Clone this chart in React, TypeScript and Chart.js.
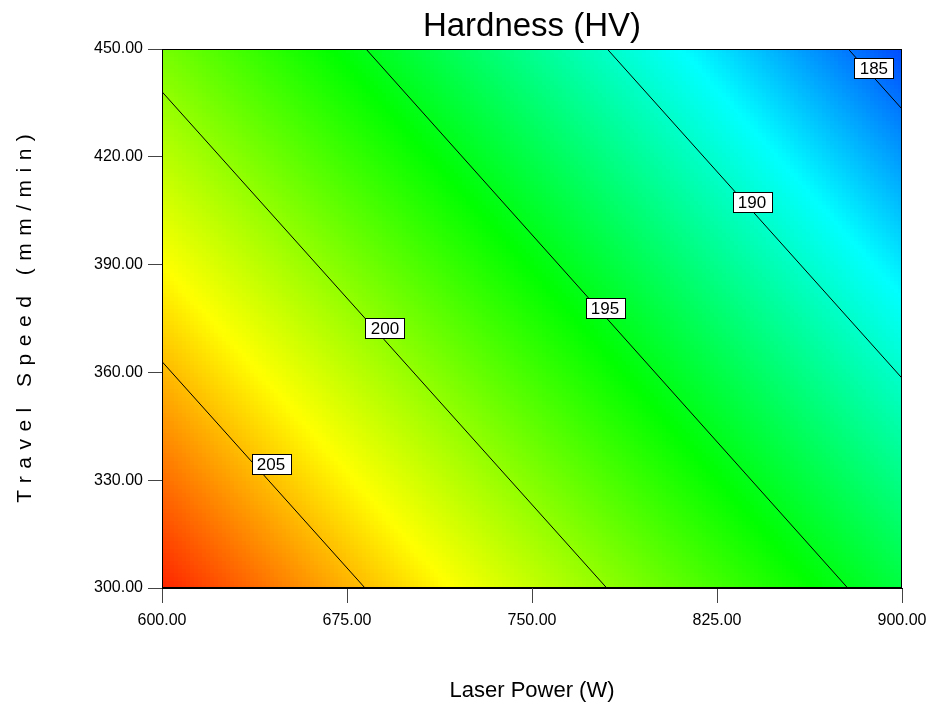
import React, { useEffect, useRef } from "react";
import { Chart, registerables } from "chart.js";

Chart.register(...registerables);

// Axis ranges / ticks
const POWER_TICKS = [600, 675, 750, 825, 900];
const SPEED_TICKS = [300, 330, 360, 390, 420, 450];

// Response surface (hardness, HV) on a coarse grid
const POWER_GRID = [600, 750, 900];
const SPEED_GRID = [300, 375, 450];
const HARDNESS_GRID = [
  // rows follow SPEED_GRID, columns follow POWER_GRID
  [209.2, 201.5, 193.9],
  [204.2, 196.6, 188.9],
  [199.2, 191.6, 183.9],
];

// Contour lines (level, endpoints in data units)
const CONTOUR_LEVELS = [205, 200, 195, 190, 185];
const CONTOUR_POWER = [
  [600, 682.3],
  [600, 780.3],
  [682.7, 878.0],
  [780.5, 900],
  [878.2, 900],
];
const CONTOUR_SPEED = [
  [363.0, 300],
  [438.1, 300],
  [450, 300],
  [450, 358.4],
  [450, 433.3],
];
// Label anchor positions (data units)
const LABEL_POWER = [644.2, 690.4, 779.6, 839.2, 888.6];
const LABEL_SPEED = [334.5, 372.4, 377.9, 407.4, 444.7];

const TITLE = "Hardness (HV)";
const X_TITLE = "Laser Power (W)";
const Y_TITLE = "Travel Speed (mm/min)";

const FONT = '"Liberation Sans", Arial, sans-serif';

const COLOR_STOPS: [number, number[]][] = [
  [182, [0, 0, 255]],
  [188.5, [0, 255, 255]],
  [195.7, [0, 255, 0]],
  [203.2, [255, 255, 0]],
  [210.2, [255, 0, 0]],
];

function colorFor(v: number): number[] {
  if (v <= COLOR_STOPS[0][0]) return COLOR_STOPS[0][1];
  for (let i = 1; i < COLOR_STOPS.length; i++) {
    const [v1, c1] = COLOR_STOPS[i];
    const [v0, c0] = COLOR_STOPS[i - 1];
    if (v <= v1) {
      const t = (v - v0) / (v1 - v0);
      return [0, 1, 2].map((k) => Math.round(c0[k] + (c1[k] - c0[k]) * t));
    }
  }
  return COLOR_STOPS[COLOR_STOPS.length - 1][1];
}

function locate(grid: number[], v: number): [number, number] {
  let i = 0;
  while (i < grid.length - 2 && v > grid[i + 1]) i++;
  const t = (v - grid[i]) / (grid[i + 1] - grid[i]);
  return [i, Math.max(0, Math.min(1, t))];
}

function surface(p: number, s: number): number {
  const [i, tx] = locate(POWER_GRID, p);
  const [j, ty] = locate(SPEED_GRID, s);
  const a = HARDNESS_GRID[j][i];
  const b = HARDNESS_GRID[j][i + 1];
  const c = HARDNESS_GRID[j + 1][i];
  const d = HARDNESS_GRID[j + 1][i + 1];
  return a * (1 - tx) * (1 - ty) + b * tx * (1 - ty) + c * (1 - tx) * ty + d * tx * ty;
}

const heatmapPlugin = {
  id: "heatmap",
  beforeDatasetsDraw(chart: any) {
    const { ctx, chartArea, scales } = chart;
    const x0 = Math.round(chartArea.left);
    const y0 = Math.round(chartArea.top);
    const w = Math.round(chartArea.right) - x0;
    const h = Math.round(chartArea.bottom) - y0;
    const img = ctx.createImageData(w, h);
    const cell = 4;
    for (let py = 0; py < h; py++) {
      const cy = Math.floor(py / cell) * cell + cell / 2;
      const s = scales.y.getValueForPixel(y0 + cy);
      for (let px = 0; px < w; px++) {
        const cx = Math.floor(px / cell) * cell + cell / 2;
        const p = scales.x.getValueForPixel(x0 + cx);
        const col = colorFor(surface(p, s));
        const idx = (py * w + px) * 4;
        img.data[idx] = col[0];
        img.data[idx + 1] = col[1];
        img.data[idx + 2] = col[2];
        img.data[idx + 3] = 255;
      }
    }
    ctx.putImageData(img, x0, y0);
  },
  afterDatasetsDraw(chart: any) {
    const { ctx, chartArea, scales } = chart;
    // contour labels
    ctx.save();
    ctx.font = `17px ${FONT}`;
    ctx.textAlign = "center";
    ctx.textBaseline = "middle";
    CONTOUR_LEVELS.forEach((lvl, i) => {
      const x = scales.x.getPixelForValue(LABEL_POWER[i]);
      const y = scales.y.getPixelForValue(LABEL_SPEED[i]);
      const bw = 39;
      const bh = 20;
      const bx = Math.round(x - bw / 2) + 0.5;
      const by = Math.round(y - bh / 2) + 0.5;
      ctx.fillStyle = "#fff";
      ctx.fillRect(bx, by, bw, bh);
      ctx.strokeStyle = "#000";
      ctx.lineWidth = 1;
      ctx.strokeRect(bx, by, bw, bh);
      ctx.fillStyle = "#000";
      ctx.fillText(String(lvl), x, y + 1);
    });
    // frame
    ctx.strokeStyle = "#000";
    ctx.lineWidth = 1;
    ctx.strokeRect(
      Math.round(chartArea.left) + 0.5,
      Math.round(chartArea.top) + 0.5,
      Math.round(chartArea.right - chartArea.left) - 1,
      Math.round(chartArea.bottom - chartArea.top) - 1
    );
    ctx.restore();
  },
  afterDraw(chart: any) {
    const { ctx, chartArea } = chart;
    const cx = (chartArea.left + chartArea.right) / 2;
    const cy = (chartArea.top + chartArea.bottom) / 2;
    ctx.save();
    ctx.fillStyle = "#000";
    ctx.textAlign = "center";
    ctx.textBaseline = "middle";
    ctx.font = `33px ${FONT}`;
    ctx.fillText(TITLE, cx, 27);
    ctx.font = `22px ${FONT}`;
    ctx.fillText(X_TITLE, cx, 691);
    ctx.translate(25, cy);
    ctx.rotate(-Math.PI / 2);
    ctx.font = `21px ${FONT}`;
    const spacing = 7.5;
    (ctx as any).letterSpacing = `${spacing}px`;
    ctx.fillText(Y_TITLE, spacing / 2, 0);
    ctx.restore();
  },
};

export default function App() {
  const ref = useRef<HTMLCanvasElement | null>(null);
  useEffect(() => {
    if (!ref.current) return;
    const datasets = CONTOUR_LEVELS.map((lvl, i) => ({
      label: String(lvl),
      data: CONTOUR_POWER[i].map((p, k) => ({ x: p, y: CONTOUR_SPEED[i][k] })),
      showLine: true,
      borderColor: "#000",
      borderWidth: 1,
      pointRadius: 0,
      fill: false,
    }));
    const chart = new Chart(ref.current, {
      type: "scatter",
      data: { datasets },
      plugins: [heatmapPlugin],
      options: {
        animation: false,
        responsive: false,
        maintainAspectRatio: false,
        layout: { padding: { top: 49, right: 28, left: 0, bottom: 0 } },
        plugins: { legend: { display: false }, tooltip: { enabled: false }, title: { display: false } },
        scales: {
          x: {
            type: "linear",
            min: POWER_TICKS[0],
            max: POWER_TICKS[POWER_TICKS.length - 1],
            afterBuildTicks: (s: any) => {
              s.ticks = POWER_TICKS.map((v) => ({ value: v }));
            },
            afterFit: (s: any) => {
              s.height = 118;
              s.paddingLeft = 0;
              s.paddingRight = 0;
            },
            ticks: {
              color: "#000",
              font: { family: FONT, size: 16 },
              padding: 8,
              maxRotation: 0,
              callback: (v: any) => Number(v).toFixed(2),
            },
            grid: { drawOnChartArea: false, drawTicks: true, tickLength: 15, color: "#444" },
            border: { display: true, color: "#000" },
          },
          y: {
            type: "linear",
            min: SPEED_TICKS[0],
            max: SPEED_TICKS[SPEED_TICKS.length - 1],
            afterBuildTicks: (s: any) => {
              s.ticks = SPEED_TICKS.map((v) => ({ value: v }));
            },
            afterFit: (s: any) => {
              s.width = 162;
              s.paddingTop = 0;
              s.paddingBottom = 0;
            },
            ticks: {
              color: "#000",
              font: { family: FONT, size: 16 },
              padding: 5,
              callback: (v: any) => Number(v).toFixed(2),
            },
            grid: { drawOnChartArea: false, drawTicks: true, tickLength: 14, color: "#444" },
            border: { display: true, color: "#000" },
          },
        },
      },
    } as any);
    return () => chart.destroy();
  }, []);
  return (
    <div style={{ position: "fixed", left: 0, top: 0, width: 930, height: 706, background: "#fff" }}>
      <canvas ref={ref} width={930} height={706} style={{ display: "block", width: 930, height: 706 }} />
    </div>
  );
}
